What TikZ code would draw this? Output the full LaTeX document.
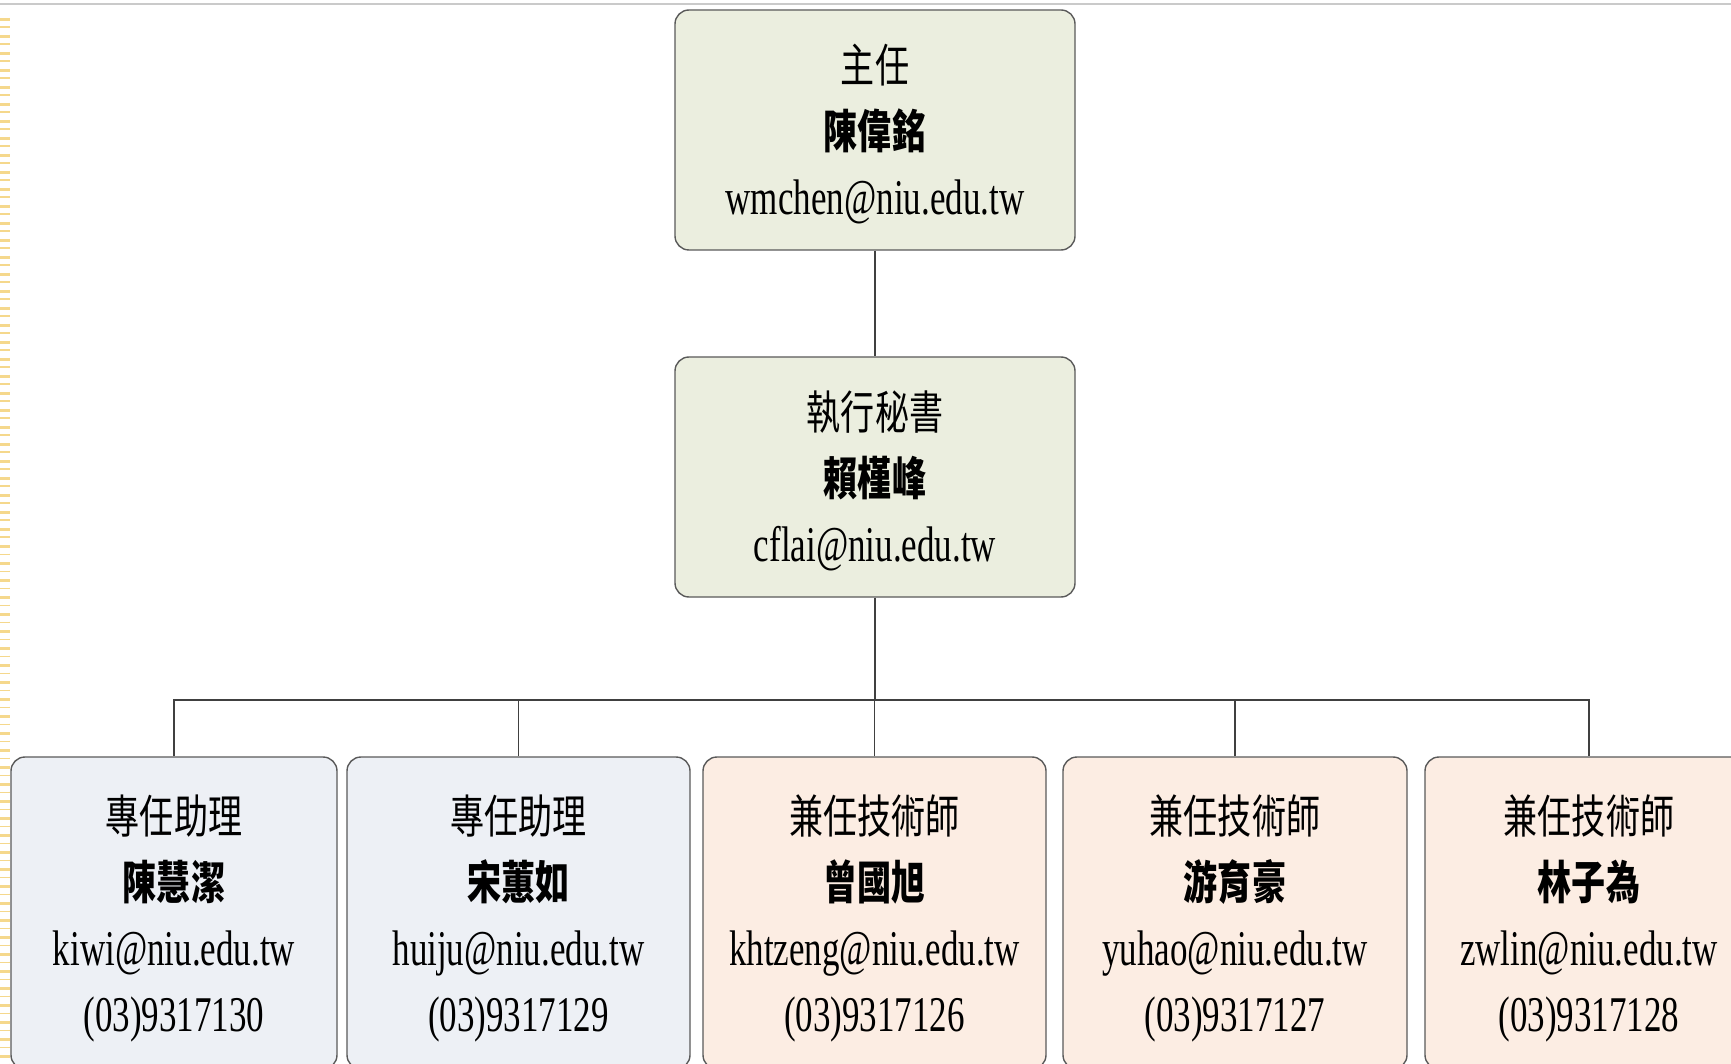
\documentclass[tikz,border=0pt]{standalone}
\usepackage{fontspec}
\newfontfamily\cjkf[FakeStretch=0.74]{Noto Sans CJK TC}
\newfontfamily\latf[FakeStretch=0.70]{Liberation Serif}
\definecolor{olivefill}{HTML}{EBEEDF}
\definecolor{bluefill}{HTML}{EDF0F5}
\definecolor{peachfill}{HTML}{FCEDE3}
\definecolor{boxline}{HTML}{5A5A5A}
\definecolor{connline}{HTML}{404040}
\definecolor{topgray}{HTML}{CACACA}
\definecolor{sideyellow}{HTML}{F5D88C}
\newcommand\roletxt[2][20pt]{{\rule{0pt}{#1}\cjkf\fontsize{23pt}{33pt}\selectfont #2}}
\newcommand\nametxt[1]{{\cjkf\bfseries\fontsize{23pt}{33pt}\selectfont #1}}
\newcommand\lattxt[1]{{\latf\fontsize{25pt}{33pt}\selectfont #1}}
\begin{document}
\begin{tikzpicture}[x=0.5pt,y=-0.5pt,
  orgbox/.style={draw=boxline, line width=0.7pt, rounded corners=7pt, align=center,
    inner sep=0pt},
  upperbox/.style={orgbox, fill=olivefill, minimum width=200pt, minimum height=120pt,
    font=\fontsize{20pt}{33pt}\selectfont},
  bluebox/.style={orgbox, fill=bluefill, minimum height=156pt, font=\fontsize{20pt}{33pt}\selectfont},
  peachbox/.style={orgbox, fill=peachfill, minimum height=156pt, font=\fontsize{20pt}{33pt}\selectfont},
  conn/.style={draw=connline, line width=0.6pt}]
\useasboundingbox (0,0) rectangle (1731,1064);
\clip (0,0) rectangle (1731,1064);
\fill[white] (0,0) rectangle (1731,1064);
% page decorations
\draw[topgray, line width=1.2pt] (0,4) -- (1731,4);
\draw[sideyellow, line width=5pt, dash pattern=on 1.5pt off 7pt] (5,18) -- (5,1064);
\draw[sideyellow, line width=5pt, dash pattern=on 0.7pt off 7.8pt, dash phase=4.25pt] (5,18) -- (5,1064);

\node[upperbox] (dir) at (875,130) {\roletxt[23.5pt]{主任}\\\nametxt{陳偉銘}\\\lattxt{wmchen@niu.edu.tw}};
\node[upperbox] (sec) at (875,477) {\roletxt[23.5pt]{執行秘書}\\\nametxt{賴槿峰}\\\lattxt{cflai@niu.edu.tw}};

\node[bluebox, minimum width=163pt] (a1) at (174,913) {\roletxt[25pt]{專任助理}\\\nametxt{陳慧潔}\\\lattxt{kiwi@niu.edu.tw}\\\lattxt{(03)9317130}};
\node[bluebox, minimum width=171.5pt] (a2) at (518.5,913) {\roletxt[25pt]{專任助理}\\\nametxt{宋蕙如}\\\lattxt{huiju@niu.edu.tw}\\\lattxt{(03)9317129}};
\node[peachbox, minimum width=171.5pt] (t1) at (874.5,913) {\roletxt[25pt]{兼任技術師}\\\nametxt{曾國旭}\\\lattxt{khtzeng@niu.edu.tw}\\\lattxt{(03)9317126}};
\node[peachbox, minimum width=172pt] (t2) at (1235,913) {\roletxt[25pt]{兼任技術師}\\\nametxt{游育豪}\\\lattxt{yuhao@niu.edu.tw}\\\lattxt{(03)9317127}};
\node[peachbox, minimum width=164pt] (t3) at (1589,913) {\roletxt[25pt]{兼任技術師}\\\nametxt{林子為}\\\lattxt{zwlin@niu.edu.tw}\\\lattxt{(03)9317128}};

\draw[conn] (dir.south) -- (sec.north);
\draw[conn] (sec.south) -- (sec.south |- 0,700) coordinate (bus);
\draw[conn] (a1.north) |- (t3.north |- bus) -- (t3.north);
\draw[conn] (a2.north) -- (a2.north |- bus);
\draw[conn] (t1.north) -- (t1.north |- bus);
\draw[conn] (t2.north) -- (t2.north |- bus);
\end{tikzpicture}
\end{document}
